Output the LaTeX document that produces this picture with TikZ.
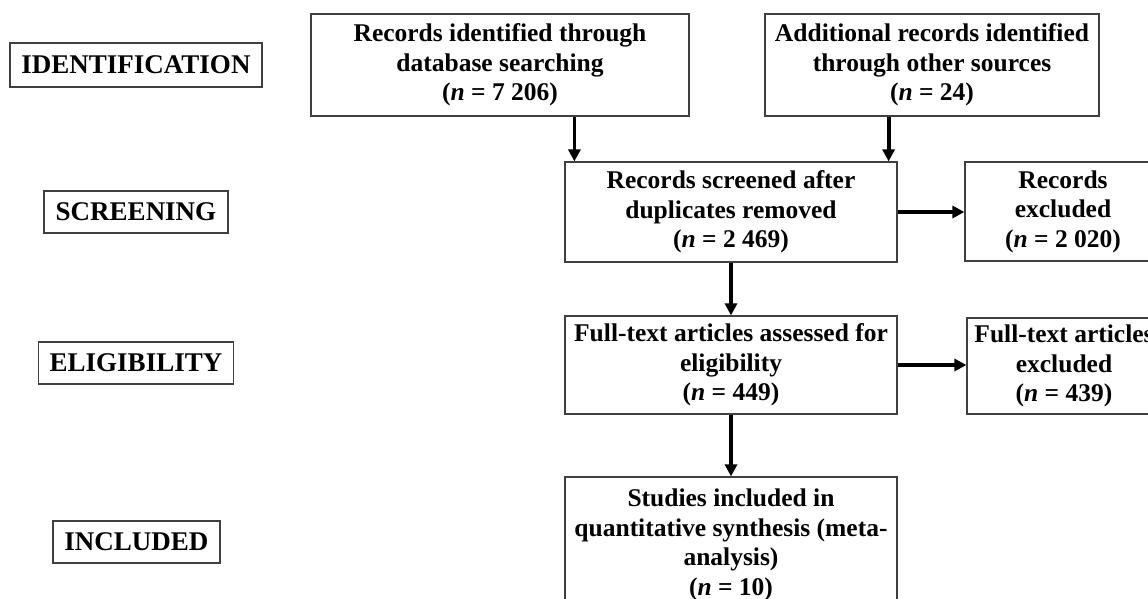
\documentclass[tikz,border=0pt]{standalone}
\usepackage{fontspec}
\setmainfont{Liberation Serif}
\usetikzlibrary{arrows.meta}

\tikzset{
	stagebox/.style={draw=black!75, line width=1.2pt, inner sep=0pt, align=center,
		font=\fontsize{27}{30}\selectfont\bfseries},
	flowbox/.style={draw=black!75, line width=1.2pt, inner sep=0pt, align=center,
		font=\fontsize{25.5}{29.5}\selectfont\bfseries},
	arr/.style={line width=3.8pt, -{Triangle[length=12pt,width=12pt]}}
}
\newcommand{\nval}[1]{(\textit{n} = #1)}

\begin{document}
\begin{tikzpicture}[x=1pt, y=-1pt]
		%%%%% START %%%%%
		
		\useasboundingbox[fill=white] (0, 0) rectangle (1148, 598);
		\clip (0, 0) rectangle (1148, 598);
		
		% stage labels
		\node[stagebox, minimum width=252, minimum height=44] (idlab) at (136, 65) {IDENTIFICATION};
		\node[stagebox, minimum width=184, minimum height=42] (scrlab) at (136, 212) {SCREENING};
		\node[stagebox, minimum width=195, minimum height=42] (elilab) at (136, 363) {ELIGIBILITY};
		\node[stagebox, minimum width=167, minimum height=42] (inclab) at (136.5, 542) {INCLUDED};
		
		% records
		\node[flowbox, minimum width=378, minimum height=102] (idrec) at (500, 65)
			{Records identified through\\database searching\\\nval{7 206}};
		\node[flowbox, minimum width=334, minimum height=102] (addrec) at (932, 65)
			{Additional records identified\\through other sources\\\nval{24}};
		
		\node[flowbox, minimum width=332, minimum height=100] (scr) at (731, 212)
			{Records screened after\\duplicates removed\\\nval{2 469}};
		\node[flowbox, minimum width=196, minimum height=99] (recex) at (1063, 211.5)
			{Records\\excluded\\\nval{2 020}};
		
		\node[flowbox, minimum width=332, minimum height=98] (ftx) at (731, 365)
			{Full-text articles assessed for\\eligibility\\\nval{449}};
		\node[flowbox, minimum width=194, minimum height=96] (ftex) at (1064, 366)
			{Full-text articles\\excluded\\\nval{439}};
		
		\node[flowbox, minimum width=332, minimum height=136] (stud) at (731, 545)
			{Studies included in\\quantitative synthesis (meta-\\analysis)\\\nval{10}};
		
		% arrows
		\coordinate (inl) at ([xshift=10pt]scr.north west);
		\coordinate (inr) at ([xshift=-9pt]scr.north east);
		\draw[arr] (idrec.south -| inl) -- (inl);
		\draw[arr] (addrec.south -| inr) -- (inr);
		\draw[arr] (scr.east) -- (scr.east -| recex.west);
		\draw[arr] (scr.south) -- (ftx.north);
		\draw[arr] (ftx.east) -- (ftx.east -| ftex.west);
		\draw[arr] (ftx.south) -- (stud.north);
		
		%%%%% END %%%%%
	\end{tikzpicture}
\end{document}
